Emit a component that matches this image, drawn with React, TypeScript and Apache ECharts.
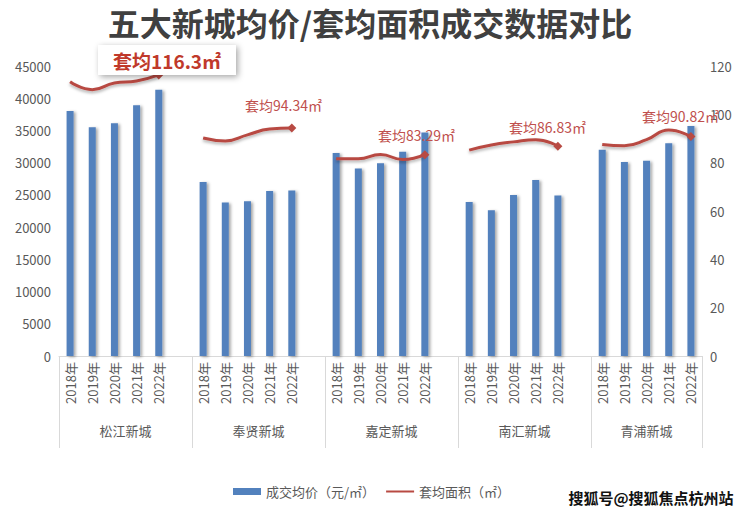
import React, { useEffect, useRef } from "react";
import * as echarts from "echarts";

const groups = ["松江新城", "奉贤新城", "嘉定新城", "南汇新城", "青浦新城"];
const years = ["2018年", "2019年", "2020年", "2021年", "2022年"];

const priceSongjiang = [38000, 35500, 36100, 38900, 41300];
const priceFengxian = [27000, 23800, 24000, 25600, 25700];
const priceJiading = [31500, 29100, 29900, 31700, 34700];
const priceNanhui = [23900, 22600, 25000, 27300, 24900];
const priceQingpu = [32000, 30100, 30300, 33000, 35700];

const areaSongjiang = [113.5, 110.2, 113.0, 113.8, 116.3];
const areaFengxian = [90.2, 89.0, 91.5, 93.9, 94.34];
const areaJiading = [81.6, 81.6, 83.4, 81.3, 83.29];
const areaNanhui = [85.2, 87.3, 88.6, 89.5, 86.83];
const areaQingpu = [87.5, 87.0, 89.5, 93.5, 90.82];

const leftTicks = { min: 0, max: 45000, interval: 5000 };
const rightTicks = { min: 0, max: 120, interval: 20 };

const annotationTexts = ["套均116.3㎡", "套均94.34㎡", "套均83.29㎡", "套均86.83㎡", "套均90.82㎡"];

const prices = [priceSongjiang, priceFengxian, priceJiading, priceNanhui, priceQingpu];
const areas = [areaSongjiang, areaFengxian, areaJiading, areaNanhui, areaQingpu];

const BLUE = "#5281bd";
const RED = "#b84a43";
const GRAY_TEXT = "#595959";
const AXIS_LINE = "#d9d9d9";
const FONT = "'Noto Sans CJK SC', 'Noto Sans', sans-serif";

export default function App() {
  const ref = useRef<HTMLDivElement>(null);

  useEffect(() => {
    if (!ref.current) return;
    const chart = echarts.init(ref.current, undefined, { renderer: "svg" });

    const categories: string[] = [];
    const barData: (number | null)[] = [];
    const lineData: any[] = [];
    groups.forEach((g, gi) => {
      years.forEach((y, yi) => {
        categories.push(g + "|" + y);
        barData.push(prices[gi][yi]);
        const v = areas[gi][yi];
        if (yi === years.length - 1) {
          lineData.push({ value: v, symbol: "diamond", symbolSize: 9 });
        } else {
          lineData.push(v);
        }
      });
      if (gi < groups.length - 1) {
        categories.push("gap" + gi + "|");
        barData.push(null);
        lineData.push(null);
      }
    });
    const nSlots = categories.length;
    const boundaries: number[] = [0];
    const centers: number[] = [];
    let pos = 0;
    groups.forEach((g, gi) => {
      const w = gi < groups.length - 1 ? years.length + 1 : years.length;
      centers.push(pos + w / 2);
      pos += w;
      boundaries.push(pos);
    });

    const option: any = {
      animation: false,
      textStyle: { fontFamily: FONT },
      title: {
        text: "五大新城均价/套均面积成交数据对比",
        left: "center",
        top: 1,
        textStyle: { fontSize: 32, fontWeight: "bold", color: "#404040", fontFamily: FONT },
      },
      grid: { left: 59, right: 38, top: 66, bottom: 159 },
      legend: {
        bottom: 12,
        left: 228,
        itemWidth: 28,
        itemHeight: 7,
        itemGap: 10,
        textStyle: { fontSize: 13, color: GRAY_TEXT, fontFamily: FONT },
        data: [
          { name: "成交均价（元/㎡）", icon: "rect" },
          { name: "套均面积（㎡）", itemStyle: { opacity: 0 } },
        ],
      },
      xAxis: [
        {
          type: "category",
          data: categories,
          position: "bottom",
          axisLine: { show: true, lineStyle: { color: AXIS_LINE, width: 1 } },
          axisTick: { show: false },
          axisLabel: {
            interval: 0,
            rotate: 90,
            margin: 6,
            fontSize: 13,
            color: GRAY_TEXT,
            fontFamily: FONT,
            formatter: (v: string) => {
              const p = v.split("|");
              return p[0].startsWith("gap") ? "" : p[1];
            },
          },
        },
        {
          type: "value",
          position: "bottom",
          min: 0,
          max: nSlots,
          splitLine: { show: false },
          axisLine: { show: false },
          axisTick: {
            show: true,
            customValues: boundaries,
            length: 92,
            lineStyle: { color: AXIS_LINE, width: 1 },
          },
          axisLabel: {
            show: true,
            customValues: centers,
            margin: 68,
            fontSize: 13,
            color: GRAY_TEXT,
            fontFamily: FONT,
            formatter: (v: number) => {
              const idx = centers.findIndex((c) => Math.abs(c - v) < 0.01);
              return idx >= 0 ? groups[idx] : "";
            },
          },
        },
      ],
      yAxis: [
        {
          type: "value",
          min: leftTicks.min,
          max: leftTicks.max,
          interval: leftTicks.interval,
          axisLine: { show: false },
          axisTick: { show: false },
          splitLine: { show: false },
          axisLabel: {
            fontSize: 13,
            color: GRAY_TEXT,
            margin: 8,
            fontFamily: FONT,
            formatter: (v: number) => String(v),
          },
        },
        {
          type: "value",
          min: rightTicks.min,
          max: rightTicks.max,
          interval: rightTicks.interval,
          axisLine: { show: false },
          axisTick: { show: false },
          splitLine: { show: false },
          axisLabel: {
            fontSize: 13,
            color: GRAY_TEXT,
            margin: 8,
            fontFamily: FONT,
            formatter: (v: number) => String(v),
          },
        },
      ],
      series: [
        {
          name: "成交均价（元/㎡）",
          type: "bar",
          xAxisIndex: 0,
          yAxisIndex: 0,
          data: barData,
          barWidth: 7,
          itemStyle: {
            color: BLUE,
            shadowBlur: 3,
            shadowOffsetX: 2,
            shadowOffsetY: 1,
            shadowColor: "rgba(0,0,0,0.35)",
          },
        },
        {
          name: "套均面积（㎡）",
          type: "line",
          xAxisIndex: 0,
          yAxisIndex: 1,
          data: lineData,
          smooth: 0.5,
          connectNulls: false,
          symbol: "none",
          showSymbol: true,
          itemStyle: { color: RED },
          lineStyle: {
            color: RED,
            width: 3,
            shadowBlur: 3,
            shadowOffsetY: 2,
            shadowColor: "rgba(0,0,0,0.3)",
          },
        },
      ],
      graphic: [
        {
          type: "rect",
          shape: { x: 98, y: 45, width: 138, height: 30 },
          style: {
            fill: "#ffffff",
            shadowBlur: 6,
            shadowOffsetX: 2,
            shadowOffsetY: 2,
            shadowColor: "rgba(0,0,0,0.35)",
          },
          z: 10,
        },
        {
          type: "text",
          x: 167,
          y: 60,
          style: {
            text: annotationTexts[0],
            fill: "#c0392b",
            font: "bold 19px " + FONT,
            align: "center",
            verticalAlign: "middle",
          },
          z: 11,
        },
        ...[
          [245, 105],
          [378, 135],
          [509, 127],
          [642, 116],
        ].map((p, i) => ({
          type: "text",
          x: p[0],
          y: p[1],
          style: {
            text: annotationTexts[i + 1],
            fill: "#c0504d",
            font: "14px " + FONT,
            align: "left",
            verticalAlign: "middle",
          },
          z: 11,
        })),
        {
          type: "text",
          right: 6,
          bottom: 10,
          style: {
            text: "搜狐号@搜狐焦点杭州站",
            fill: "#111111",
            font: "bold 15px " + FONT,
            stroke: "#ffffff",
            lineWidth: 1,
          },
          z: 12,
        },
      ],
    };

    chart.setOption(option);
    return () => chart.dispose();
  }, []);

  return (
    <div
      ref={ref}
      style={{ position: "fixed", left: 0, top: 0, width: 740, height: 515, background: "#ffffff" }}
    />
  );
}
